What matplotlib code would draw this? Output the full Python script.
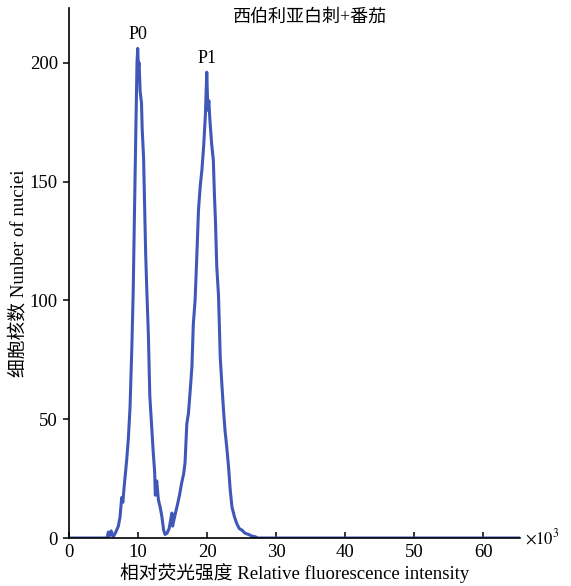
import matplotlib
matplotlib.use("Agg")
import matplotlib.pyplot as plt

plt.rcParams['font.family'] = ['Liberation Serif', 'Noto Sans CJK SC']
plt.rcParams['mathtext.fontset'] = 'stix'

# fluorescence intensity (x10^3) and nuclei counts
intensity = [0, 5.5, 5.7, 5.9, 6.1, 6.4, 6.7, 7.0, 7.15, 7.4, 7.63, 7.8, 8.0, 8.2,
             8.36, 8.6, 8.84, 9.1, 9.3, 9.5, 9.7, 9.85, 9.95, 10.05, 10.15, 10.3,
             10.5, 10.6, 10.8, 10.95, 11.1, 11.26, 11.5, 11.7, 11.95, 12.2, 12.4,
             12.5, 12.7, 12.95, 13.2, 13.45, 13.7, 13.9, 14.2, 14.5, 14.9, 15.0,
             15.3, 15.7, 16.0, 16.3, 16.6, 16.8, 17.06, 17.3, 17.55, 17.8, 18.0,
             18.26, 18.5, 18.75, 19.0, 19.25, 19.5, 19.75, 19.95, 20.1, 20.25,
             20.4, 20.65, 20.9, 21.05, 21.2, 21.4, 21.65, 21.9, 22.15, 22.4, 22.6,
             22.85, 23.1, 23.35, 23.6, 23.95, 24.3, 24.65, 25.0, 25.5, 26.0, 26.5,
             27.0, 27.3, 65.3]
counts = [0, 0, 2.5, 1.0, 3.0, 0.5, 2.0, 4.0, 5, 9, 17, 15, 22, 28,
          33, 42, 55, 80, 104, 140, 175, 200, 206, 198, 200, 188,
          183, 172, 160, 140, 120, 105, 85, 60, 48, 36, 28,
          18, 24, 16, 13, 9, 3.4, 1.5, 2, 4, 10.5, 5,
          9, 14, 18, 23, 27, 31.5, 48, 52.6, 62, 72, 90,
          100, 118, 138, 148, 155, 165, 178, 196, 180, 184,
          176, 166, 159, 145, 134, 114, 102, 76, 64, 52.6, 45,
          38, 30, 20, 13, 9, 6, 4, 3.4, 2, 1.5, 0.8,
          0.5, 0, 0]

peak_names = ['P0', 'P1']
peak_x = [10, 20]
peak_y = [210, 200]

x_ticks = [0, 10, 20, 30, 40, 50, 60]
y_ticks = [0, 50, 100, 150, 200]

fig = plt.figure(figsize=(5.71, 5.86), dpi=100)
ax = fig.add_axes([0.1208, 0.0819, 0.7899, 0.9044])

ax.plot(intensity, counts, color='#3f57b8', lw=2.2)

for name, px, py in zip(peak_names, peak_x, peak_y):
    ax.text(px, py, name, ha='center', va='baseline', fontsize=13)

ax.set_xlim(0, 65.3)
ax.set_ylim(0, 223)
ax.set_xticks(x_ticks)
ax.set_yticks(y_ticks)
ax.spines['top'].set_visible(False)
ax.spines['right'].set_visible(False)
for s in ['left', 'bottom']:
    ax.spines[s].set_linewidth(1.2)
ax.tick_params(axis='x', direction='in', length=4, width=1.1, labelsize=13.5, pad=4)
ax.tick_params(axis='y', direction='out', length=4, width=1.1, labelsize=13.5, pad=4)

ax.set_xlabel('相对荧光强度 Relative fluorescence intensity', fontsize=13.5, labelpad=1.5)
ax.set_ylabel('细胞核数 Nunber of nuciei', fontsize=13.5, labelpad=2)
ax.text(0.534, 0.983, '西伯利亚白刺+番茄', transform=ax.transAxes, ha='center', va='center', fontsize=13)
ax.text(1.01, 0.0, r'$\times10^3$', transform=ax.transAxes, ha='left', va='center', fontsize=12)

fig.savefig('out.png', dpi=100)
